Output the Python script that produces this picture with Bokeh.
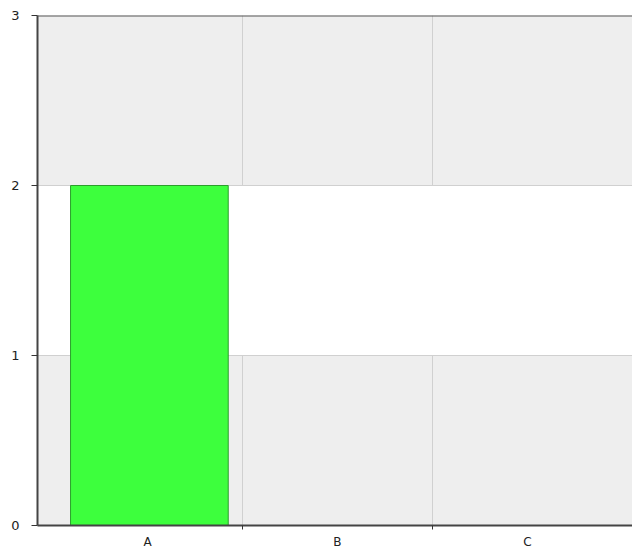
from bokeh.plotting import figure
from bokeh.models import FixedTicker, Range1d, Span, ColumnDataSource
from bokeh.embed import file_html
from bokeh.resources import INLINE

categories = ["A", "B", "C"]
values = [2, 0, 0]
y_ticks = [0, 1, 2, 3]

positions = [i + 0.5 for i in range(len(categories))]
boundaries = [i for i in range(1, len(categories))]

xs = [p + 0.01 for p, v in zip(positions, values) if v]
tops = [v for v in values if v]
src = ColumnDataSource(dict(x=xs, top=tops))

p = figure(width=632, height=552, output_backend="svg", toolbar_location=None,
           x_range=Range1d(-0.079, 3.053), y_range=Range1d(0, 3),
           min_border_left=37, min_border_top=15, min_border_right=0, min_border_bottom=27)
p.outline_line_color = None
p.background_fill_color = "#eeeeee"
p.border_fill_color = "white"

p.vbar(x="x", top="top", width=0.83, bottom=0, source=src,
       fill_color="#3dff3d", line_color="#2b9e2b", line_width=1)

# axes
p.xaxis.ticker = FixedTicker(ticks=positions, minor_ticks=boundaries)
p.xaxis.major_label_overrides = {pos: c for pos, c in zip(positions, categories)}
p.xaxis.major_tick_out = 0
p.xaxis.major_tick_in = 0
p.xaxis.minor_tick_out = 4
p.xaxis.minor_tick_in = 0
p.xaxis.minor_tick_line_color = "#333333"
p.xaxis.axis_line_color = "#444444"
p.xaxis.axis_line_width = 2
p.xaxis.major_label_standoff = 5
p.xaxis.major_label_text_font_size = "12px"

p.yaxis.ticker = FixedTicker(ticks=y_ticks)
p.yaxis.major_tick_out = 6
p.yaxis.major_tick_in = 0
p.yaxis.minor_tick_out = 0
p.yaxis.major_tick_line_color = "#333333"
p.yaxis.axis_line_color = "#444444"
p.yaxis.axis_line_width = 2
p.yaxis.major_label_standoff = 12
p.yaxis.major_label_text_font_size = "13px"

for ax in (p.xaxis, p.yaxis):
    ax.major_label_text_font = "DejaVu Sans"
    ax.major_label_text_color = "#222222"

# grids
p.xgrid.ticker = FixedTicker(ticks=boundaries)
p.xgrid.grid_line_color = "#d0d0d0"
p.ygrid.ticker = FixedTicker(ticks=y_ticks)
p.ygrid.grid_line_color = "#d0d0d0"
p.ygrid.band_fill_color = "white"
p.ygrid.band_fill_alpha = 1.0

p.add_layout(Span(location=3, dimension="width", line_color="#555555", line_width=2))

open("out.html", "w").write(file_html(p, INLINE))
